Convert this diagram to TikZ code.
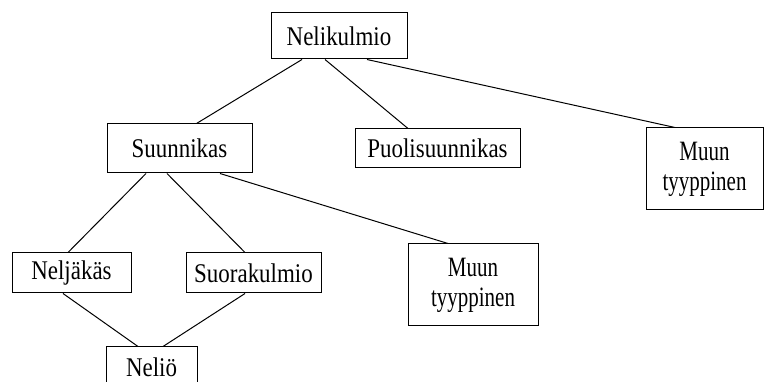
\documentclass[tikz,border=0pt]{standalone}
\usepackage{fontspec}
\setmainfont{Liberation Serif}
\newfontfamily\condA{Liberation Serif}[FakeStretch=0.85]
\newfontfamily\condB{Liberation Serif}[FakeStretch=0.75]
\begin{document}
\begin{tikzpicture}[x=1pt,y=-1pt,
  box/.style={draw,line width=1pt,inner sep=0pt,align=center,
    font=\condA\fontsize{27}{30}\selectfont},
  twoline/.style={box,font=\condB\fontsize{28}{30}\selectfont},
  conn/.style={line width=1pt}]
\useasboundingbox (0,0) rectangle (764,382);
\clip (0,0) rectangle (764,382);
\node[box,minimum width=136pt,minimum height=46pt] (neli) at (339,36) {Nelikulmio};
\node[box,minimum width=145pt,minimum height=49pt] (suun) at (179.5,148.5) {Suunnikas};
\node[box,minimum width=165pt,minimum height=39pt] (puol) at (437.5,148.5) {Puolisuunnikas};
\node[twoline,minimum width=117pt,minimum height=82pt] (muu1) at (704.5,169) {Muun\\tyyppinen};
\node[twoline,minimum width=130pt,minimum height=82pt] (muu2) at (473,285) {Muun\\tyyppinen};
\node[box,minimum width=119pt,minimum height=40pt] (nelj) at (71.5,273) {Neljäkäs};
\node[box,minimum width=135pt,minimum height=40pt] (suor) at (253.5,273) {Suorakulmio};
\node[box,minimum width=91pt,minimum height=40pt] (nelio) at (151.5,367) {Neliö};
\draw[conn] ([xshift=-37pt]neli.south) -- ([xshift=17pt]suun.north);
\draw[conn] ([xshift=-14pt]neli.south) -- ([xshift=-29.5pt]puol.north);
\draw[conn] ([xshift=28pt]neli.south) -- ([xshift=-29.5pt]muu1.north);
\draw[conn] ([xshift=-33.5pt]suun.south) -- ([xshift=-3.5pt]nelj.north);
\draw[conn] ([xshift=-12.5pt]suun.south) -- ([xshift=-8.5pt]suor.north);
\draw[conn] ([xshift=40.5pt]suun.south) -- ([xshift=-25pt]muu2.north);
\draw[conn] ([xshift=-8.5pt]nelj.south) -- ([xshift=-13.5pt]nelio.north);
\draw[conn] ([xshift=-8.5pt]suor.south) -- ([xshift=11.5pt]nelio.north);
\end{tikzpicture}
\end{document}
